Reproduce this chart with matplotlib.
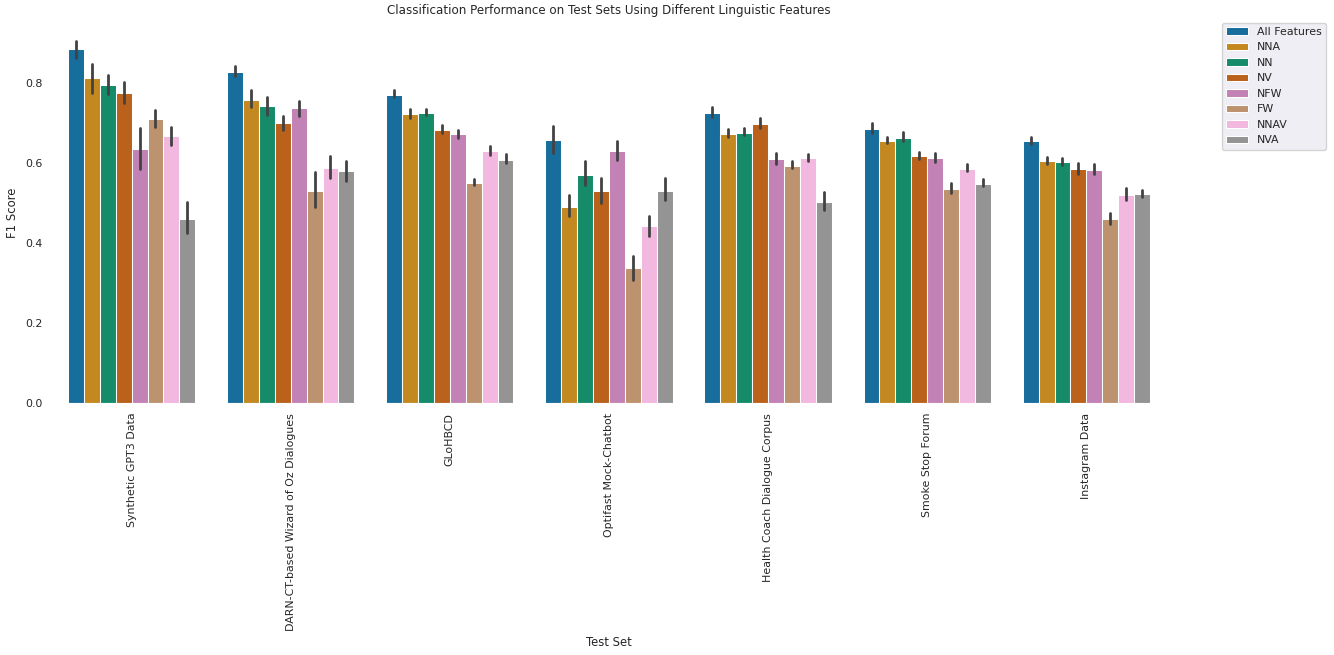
import numpy as np
import matplotlib
matplotlib.use("Agg")
import matplotlib.pyplot as plt
import seaborn as sns

test_sets = ["Synthetic GPT3 Data", "DARN-CT-based Wizard of Oz Dialogues", "GLoHBCD",
             "Optifast Mock-Chatbot", "Health Coach Dialogue Corpus", "Smoke Stop Forum",
             "Instagram Data"]
features = ["All Features", "NNA", "NN", "NV", "NFW", "FW", "NNAV", "NVA"]

# mean F1 per test set (rows) and feature set (columns)
f1_mean = [
    [0.885, 0.8125, 0.795, 0.775, 0.635, 0.710, 0.6675, 0.460],
    [0.8275, 0.7575, 0.7425, 0.700, 0.7375, 0.530, 0.5875, 0.580],
    [0.770, 0.7225, 0.725, 0.6825, 0.6725, 0.550, 0.630, 0.6075],
    [0.6575, 0.490, 0.570, 0.530, 0.630, 0.3375, 0.4425, 0.530],
    [0.725, 0.6725, 0.675, 0.6975, 0.610, 0.5925, 0.6125, 0.5025],
    [0.685, 0.655, 0.6625, 0.6175, 0.6125, 0.535, 0.585, 0.5475],
    [0.655, 0.605, 0.6025, 0.585, 0.5825, 0.460, 0.520, 0.5225],
]
# confidence interval lower / upper bounds
ci_low = [
    [0.864, 0.774, 0.772, 0.749, 0.584, 0.689, 0.644, 0.424],
    [0.8175, 0.739, 0.719, 0.6825, 0.717, 0.489, 0.562, 0.554],
    [0.764, 0.712, 0.719, 0.674, 0.663, 0.544, 0.621, 0.599],
    [0.624, 0.4675, 0.544, 0.499, 0.6075, 0.3075, 0.417, 0.507],
    [0.714, 0.664, 0.669, 0.687, 0.597, 0.587, 0.604, 0.482],
    [0.674, 0.649, 0.654, 0.609, 0.602, 0.524, 0.579, 0.542],
    [0.647, 0.597, 0.594, 0.572, 0.572, 0.447, 0.507, 0.514],
]
ci_high = [
    [0.906, 0.849, 0.821, 0.804, 0.688, 0.733, 0.691, 0.503],
    [0.843, 0.783, 0.766, 0.718, 0.756, 0.578, 0.618, 0.605],
    [0.782, 0.734, 0.734, 0.694, 0.682, 0.559, 0.642, 0.622],
    [0.693, 0.521, 0.604, 0.563, 0.656, 0.368, 0.467, 0.562],
    [0.739, 0.684, 0.687, 0.712, 0.624, 0.604, 0.622, 0.527],
    [0.699, 0.664, 0.677, 0.627, 0.624, 0.549, 0.597, 0.559],
    [0.664, 0.614, 0.612, 0.599, 0.597, 0.474, 0.537, 0.532],
]

sns.set_style("darkgrid")
plt.rcParams["font.family"] = ["DejaVu Sans"]
FS_TICK = 7.9
FS_LABEL = 8.4
FS_TITLE = 8.6
TXT = "#262626"

fig = plt.figure(figsize=(13.34, 6.55), dpi=100)
ax = fig.add_axes([0.039, 0.3847, 0.835, 0.5808])
ax.set_facecolor("white")

pal = [sns.desaturate(c, 0.75) for c in sns.color_palette("colorblind", len(features))]
mean = np.array(f1_mean)
lo = np.array(ci_low)
hi = np.array(ci_high)
n_h = len(features)
w = 0.8 / n_h
xs = np.arange(len(test_sets))
for j, feat in enumerate(features):
    pos = xs - 0.4 + w * (j + 0.5)
    ax.bar(pos, mean[:, j], width=w, color=pal[j], edgecolor="white", linewidth=0.75,
           label=feat, zorder=2)
    for k in range(len(test_sets)):
        ax.plot([pos[k], pos[k]], [lo[k, j], hi[k, j]], color="#424242", lw=2.0,
                solid_capstyle="round", zorder=3)

ax.set_xlim(-0.5, len(test_sets) - 0.5)
ax.set_xticks(xs)
ax.set_xticklabels(test_sets, rotation=90, fontsize=FS_TICK, color=TXT)
ax.tick_params(axis="y", labelsize=FS_TICK, labelcolor=TXT)
ax.set_yticks([0.0, 0.2, 0.4, 0.6, 0.8])
ax.set_xlabel("Test Set", fontsize=FS_LABEL, color=TXT)
ax.set_ylabel("F1 Score", fontsize=FS_LABEL, color=TXT)
ax.set_title("Classification Performance on Test Sets Using Different Linguistic Features",
             fontsize=FS_TITLE, color=TXT)
leg = ax.legend(bbox_to_anchor=(1.05, 1), loc="upper left", borderaxespad=0,
                fontsize=FS_TICK, facecolor="#EAEAF2")
for t in leg.get_texts():
    t.set_color(TXT)

fig.savefig("out.png", dpi=100)
